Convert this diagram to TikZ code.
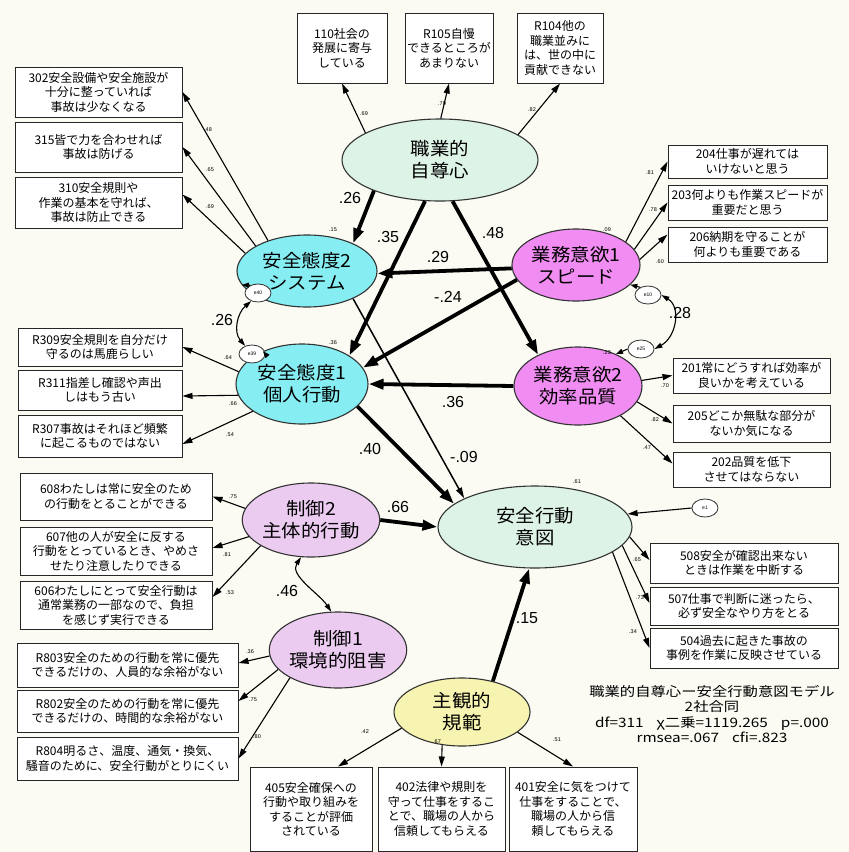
\documentclass[tikz,border=0pt]{standalone}
\usepackage{fontspec}
\setmainfont{Noto Sans CJK JP}
\newfontfamily\boxjp{Noto Sans CJK JP}
\newfontfamily\elljp[FakeStretch=1.08]{Noto Sans CJK JP}
\newfontfamily\legjp[FakeStretch=1.18]{Noto Sans CJK JP}
\newfontfamily\numf{Liberation Sans}
\usetikzlibrary{arrows.meta,shapes.geometric,calc}
\definecolor{bgc}{HTML}{FBFBF4}
\definecolor{mintc}{HTML}{DDF3E6}
\definecolor{cyanc}{HTML}{86EEF2}
\definecolor{magc}{HTML}{F08CF2}
\definecolor{violc}{HTML}{EBCBF0}
\definecolor{yelc}{HTML}{F7F3B0}
\begin{document}
\begin{tikzpicture}[x=1pt,y=-1pt,
 obs/.style={draw=black!85, line width=1pt, fill=white, align=center, inner sep=0pt, font={\boxjp\fontsize{12}{14.5}\selectfont}},
 lat/.style={ellipse, draw=black!80, line width=1.1pt, align=center, inner sep=0pt, font={\elljp\fontsize{18}{22}\selectfont}},
 err/.style={ellipse, draw=black!80, line width=0.8pt, fill=white, inner sep=0pt, minimum width=26pt, minimum height=18pt, font={\numf\fontsize{5}{6}\selectfont}},
 pth/.style={line width=3.8pt, -{Triangle[length=15pt,width=10pt]}},
 pthin/.style={line width=1.5pt, -{Triangle[length=11pt,width=6pt]}},
 ind/.style={line width=1.1pt, -{Triangle[length=10pt,width=6pt]}},
 cov/.style={line width=1.1pt, {Triangle[length=8pt,width=5pt]}-{Triangle[length=8pt,width=5pt]}},
 plab/.style={font={\numf\fontsize{16}{18}\selectfont}, inner sep=0pt},
 slab/.style={font={\numf\fontsize{5.5}{6}\selectfont}, inner sep=0pt},
 leg/.style={align=center, inner sep=0pt, font={\legjp\fontsize{13}{15.5}\selectfont}}
]
\useasboundingbox (0,0) rectangle (849,852);
\fill[bgc] (0,0) rectangle (849,852);

% observed boxes
\node[obs, minimum width=90pt, minimum height=70pt] (b110) at (342,48) {110社会の\\発展に寄与\\している};
\node[obs, minimum width=88pt, minimum height=70pt] (r105) at (449,48) {R105自慢\\できるところが\\あまりない};
\node[obs, minimum width=86pt, minimum height=70pt] (r104) at (560,48) {R104他の\\職業並みに\\は、世の中に\\貢献できない};

\node[obs, minimum width=167pt, minimum height=50pt] (b302) at (98.5,92) {302安全設備や安全施設が\\十分に整っていれば\\事故は少なくなる};
\node[obs, minimum width=167pt, minimum height=50pt] (b315) at (98.5,147) {315皆で力を合わせれば\\事故は防げる};
\node[obs, minimum width=167pt, minimum height=51pt] (b310) at (98.5,202.5) {310安全規則や\\作業の基本を守れば、\\事故は防止できる};

\node[obs, minimum width=164pt, minimum height=38pt] (r309) at (100,347) {R309安全規則を自分だけ\\守るのは馬鹿らしい};
\node[obs, minimum width=164pt, minimum height=40pt] (r311) at (100,390) {R311指差し確認や声出\\しはもう古い};
\node[obs, minimum width=164pt, minimum height=42pt] (r307) at (100,436) {R307事故はそれほど頻繁\\に起こるものではない};

\node[obs, minimum width=159pt, minimum height=33pt] (b204) at (747.5,161.5) {204仕事が遅れては\\いけないと思う};
\node[obs, minimum width=159pt, minimum height=35pt] (b203) at (747.5,202.5) {203何よりも作業スピードが\\重要だと思う};
\node[obs, minimum width=159pt, minimum height=35pt] (b206) at (747.5,244.5) {206納期を守ることが\\何よりも重要である};

\node[obs, minimum width=157pt, minimum height=35pt] (b201) at (751.5,375.5) {201常にどうすれば効率が\\良いかを考えている};
\node[obs, minimum width=157pt, minimum height=37pt] (b205) at (751.5,423.5) {205どこか無駄な部分が\\ないか気になる};
\node[obs, minimum width=157pt, minimum height=35pt] (b202) at (751.5,469.5) {202品質を低下\\させてはならない};

\node[obs, minimum width=188pt, minimum height=40pt] (b508) at (744,563) {508安全が確認出来ない\\ときは作業を中断する};
\node[obs, minimum width=188pt, minimum height=38pt] (b507) at (744,606) {507仕事で判断に迷ったら、\\必ず安全なやり方をとる};
\node[obs, minimum width=188pt, minimum height=40pt] (b504) at (744,648) {504過去に起きた事故の\\事例を作業に反映させている};

\node[obs, minimum width=192pt, minimum height=47pt] (b608) at (116,496.5) {608わたしは常に安全のため\\の行動をとることができる};
\node[obs, minimum width=192pt, minimum height=48pt] (b607) at (116,551) {607他の人が安全に反する\\行動をとっているとき、やめさ\\せたり注意したりできる};
\node[obs, minimum width=192pt, minimum height=48pt] (b606) at (116,605) {606わたしにとって安全行動は\\通常業務の一部なので、負担\\を感じず実行できる};

\node[obs, minimum width=221pt, minimum height=44pt] (r803) at (127.5,665) {R803安全のための行動を常に優先\\できるだけの、人員的な余裕がない};
\node[obs, minimum width=221pt, minimum height=42pt] (r802) at (127.5,711) {R802安全のための行動を常に優先\\できるだけの、時間的な余裕がない};
\node[obs, minimum width=221pt, minimum height=43pt] (r804) at (127.5,758.5) {R804明るさ、温度、通気・換気、\\騒音のために、安全行動がとりにくい};

\node[obs, minimum width=122pt, minimum height=84pt] (b405) at (311,809) {405安全確保への\\行動や取り組みを\\することが評価\\されている};
\node[obs, minimum width=127pt, minimum height=84pt] (b402) at (441.5,809) {402法律や規則を\\守って仕事をするこ\\とで、職場の人から\\信頼してもらえる};
\node[obs, minimum width=128pt, minimum height=84pt] (b401) at (573,809) {401安全に気をつけて\\仕事をすることで、\\職場の人から信\\頼してもらえる};

% latent ellipses
\node[lat, fill=mintc, minimum width=196pt, minimum height=82pt] (jsc) at (440,160) {職業的\\自尊心};
\node[lat, fill=cyanc, minimum width=140pt, minimum height=72pt] (ta2) at (307,271) {安全態度2\\システム};
\node[lat, fill=cyanc, minimum width=132pt, minimum height=80pt] (ta1) at (302,384) {安全態度1\\個人行動};
\node[lat, fill=magc, minimum width=128pt, minimum height=72pt] (gi1) at (576,265) {業務意欲1\\スピード};
\node[lat, fill=magc, minimum width=128pt, minimum height=78pt] (gi2) at (578,386) {業務意欲2\\効率品質};
\node[lat, fill=mintc, minimum width=194pt, minimum height=82pt] (ik) at (535,527) {安全行動\\意図};
\node[lat, fill=violc, minimum width=134pt, minimum height=74pt] (sg2) at (311,520) {制御2\\主体的行動};
\node[lat, fill=violc, minimum width=132pt, minimum height=76pt] (sg1) at (338,650) {制御1\\環境的阻害};
\node[lat, fill=yelc, minimum width=136pt, minimum height=68pt] (sk) at (462,712) {主観的\\規範};

% error terms
\node[err] (e40) at (258,293) {e40};
\node[err] (e39) at (252,354) {e39};
\node[err] (e10) at (648,295) {e10};
\node[err] (e25) at (641,349) {e25};
\node[err] (e1) at (705,508) {e1};

% indicator arrows
\draw[ind] (jsc.160) -- (b110.south);
\draw[ind] (jsc.89) -- (r105.south);
\draw[ind] (jsc.18) -- (r104.south);
\draw[ind] (ta2.142) -- (b302.east);
\draw[ind] (ta2.154) -- (b315.east);
\draw[ind] (ta2.164) -- ($(b310.east)+(0,-8)$);
\draw[ind] (ta1.169) -- (r309.east);
\draw[ind] (ta1.190) -- ($(r311.east)+(0,6)$);
\draw[ind] (ta1.209) -- ($(r307.east)+(0,8)$);
\draw[ind] (gi1.25) -- (b204.west);
\draw[ind] (gi1.15) -- (b203.west);
\draw[ind] (gi1.5) -- ($(b206.west)+(0,-10)$);
\draw[ind] (gi2.5) -- (b201.west);
\draw[ind] (gi2.-15) -- (b205.west);
\draw[ind] (gi2.-35) -- ($(b202.west)+(0,-6)$);
\draw[ind] (ik.-6) -- ($(b508.west)+(0,-3)$);
\draw[ind] (ik.-12) -- ($(b507.west)+(0,-3)$);
\draw[ind] (ik.-18) -- (b504.west);
\draw[ind] (sg2.170) -- (b608.east);
\draw[ind] (sg2.195) -- ($(b607.east)+(0,-3)$);
\draw[ind] (sg2.207) -- ($(b606.east)+(0,-8)$);
\draw[ind] (sg1.185) -- ($(r803.east)+(0,-2)$);
\draw[ind] (sg1.198) -- ($(r802.east)+(0,-10)$);
\draw[ind] (sg1.210) -- (r804.east);
\draw[ind] (sk.195) -- ($(b405.north)+(27,0)$);
\draw[ind] (sk.239) -- (b402.north);
\draw[ind] (sk.-20) -- (b401.north);

% structural paths
\draw[pth] (jsc.205) -- (ta2.31);
\draw[pth] (jsc.250) -- (ta1.31);
\draw[pth] (jsc.287) -- (gi2.142);
\draw[pth] (gi1.183) -- (ta2.358);
\draw[pth] (gi1.194) -- (ta1.15);
\draw[pth] (gi2.west) -- (ta1.east);
\draw[pth] (ta1.338) -- (ik.164);
\draw[pthin] (ta2.329) -- (ik.158);
\draw[pth] (sg2.east) -- (ik.west);
\draw[pth] (sk.45) -- (ik.262);

% error arrows and covariances
\draw[ind, -{Triangle[length=7pt,width=5pt]}] (e40.135) -- (ta2.192);
\draw[ind, -{Triangle[length=7pt,width=5pt]}] (e39.east) -- (ta1.140);
\draw[ind, -{Triangle[length=7pt,width=5pt]}] (e10.135) -- (gi1.-20);
\draw[ind, -{Triangle[length=7pt,width=5pt]}] (e25.west) -- (gi2.40);
\draw[ind] (e1.west) -- (ik.8);
\draw[cov] (e40.230) .. controls +(-14,12) and +(-12,-14) .. (e39.130);
\draw[cov] (e10.east) .. controls +(20,12) and +(22,-12) .. (e25.east);
\draw[cov] (sg2.255) .. controls +(-12,18) and +(-12,-18) .. (sg1.100);

% path labels
\node[plab] (l1) at (350,198) {.26};
\node[plab] (l2) at (388,237) {.35};
\node[plab] (l3) at (493,233) {.48};
\node[plab] (l4) at (438,257) {.29};
\node[plab] (l5) at (448,297) {-.24};
\node[plab] (l6) at (222,320) {.26};
\node[plab] (l7) at (680,313) {.28};
\node[plab] (l8) at (453,402) {.36};
\node[plab] (l9) at (370,449) {.40};
\node[plab] (l10) at (464,457) {-.09};
\node[plab] (l11) at (398,507) {.66};
\node[plab] (l12) at (287,591) {.46};
\node[plab] (l13) at (527,618) {.15};

% small labels
\node[slab] (s1) at (364,114) {.69};
\node[slab] (s2) at (442,104) {.70};
\node[slab] (s3) at (532,110) {.82};
\node[slab] (s4) at (208,130) {.48};
\node[slab] (s5) at (210,170) {.65};
\node[slab] (s6) at (210,207) {.69};
\node[slab] (s7) at (333,230) {.15};
\node[slab] (s8) at (228,358) {.64};
\node[slab] (s9) at (233,404) {.66};
\node[slab] (s10) at (230,435) {.54};
\node[slab] (s11) at (333,343) {.36};
\node[slab] (s12) at (607,230) {.09};
\node[slab] (s13) at (607,353) {.23};
\node[slab] (s14) at (650,173) {.81};
\node[slab] (s15) at (653,210) {.78};
\node[slab] (s16) at (660,262) {.60};
\node[slab] (s17) at (665,386) {.70};
\node[slab] (s18) at (655,420) {.82};
\node[slab] (s19) at (647,448) {.47};
\node[slab] (s20) at (577,482) {.61};
\node[slab] (s21) at (637,560) {.65};
\node[slab] (s22) at (640,598) {.73};
\node[slab] (s23) at (633,632) {.34};
\node[slab] (s24) at (233,497) {.75};
\node[slab] (s25) at (227,555) {.81};
\node[slab] (s26) at (230,593) {.53};
\node[slab] (s27) at (250,652) {.36};
\node[slab] (s28) at (253,700) {.75};
\node[slab] (s29) at (257,737) {.80};
\node[slab] (s30) at (365,732) {.42};
\node[slab] (s31) at (437,742) {.67};
\node[slab] (s32) at (557,740) {.51};

% legend
\node[leg] (legend) at (712,714) {職業的自尊心ー安全行動意図モデル\\2社合同\\df=311\quad χ二乗=1119.265\quad p=.000\\rmsea=.067\quad cfi=.823};
\end{tikzpicture}
\end{document}
